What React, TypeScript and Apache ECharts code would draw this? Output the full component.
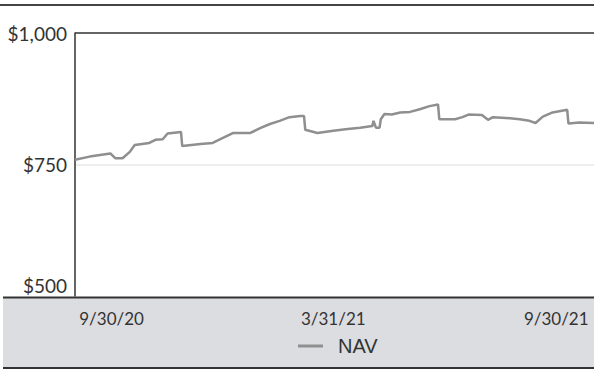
import React, { useEffect, useRef } from "react";
import * as echarts from "echarts";

const dates = ['2020-08-31','2020-09-12','2020-09-29','2020-10-03','2020-10-09','2020-10-15','2020-10-19','2020-10-31','2020-11-05','2020-11-11','2020-11-15','2020-11-26','2020-11-27','2020-12-12','2020-12-22','2020-12-30','2021-01-08','2021-01-22','2021-01-30','2021-02-07','2021-02-15','2021-02-23','2021-03-04','2021-03-07','2021-03-08','2021-03-18','2021-03-31','2021-04-10','2021-04-22','2021-05-02','2021-05-03','2021-05-05','2021-05-08','2021-05-09','2021-05-12','2021-05-18','2021-05-25','2021-06-02','2021-06-10','2021-06-18','2021-06-25','2021-06-26','2021-07-09','2021-07-15','2021-07-20','2021-07-31','2021-08-05','2021-08-09','2021-08-23','2021-08-31','2021-09-08','2021-09-13','2021-09-19','2021-09-27','2021-10-09','2021-10-10','2021-10-19','2021-10-31'];
const navValues = [759,765,771,762,762,774,787,791,797,798,809,812,785,789,791,800,810,810,819,827,833,840,842,842,816,810,814,817,820,823,833,820,820,836,846,845,849,850,855,861,864,836,836,840,845,844,835,840,838,836,833,829,841,849,854,828,830,829];
const xStart = '2020-08-31';
const xEnd = '2021-10-31';
const xTickDates = ['2020-09-30', '2021-03-31', '2021-09-30'];
const yTicks = [500, 750, 1000];

const ts = (s: string) => {
  const [y, m, d] = s.split('-').map(Number);
  return new Date(y, m - 1, d).getTime();
};

export default function App() {
  const ref = useRef<HTMLDivElement>(null);
  useEffect(() => {
    if (!ref.current) return;
    const chart = echarts.init(ref.current, undefined, { renderer: "svg" });
    const labelFont = "Lato, 'Open Sans', sans-serif";
    chart.setOption({
      animation: false,
      graphic: {
        elements: [
          { type: "line", z: -10, shape: { x1: 0, y1: 5, x2: 594, y2: 5 }, style: { stroke: "#444", lineWidth: 2 } },
          { type: "rect", z: -10, shape: { x: 3, y: 297, width: 591, height: 71 }, style: { fill: "#dcdde0" } },
          { type: "line", z: -9, shape: { x1: 3, y1: 297.5, x2: 594, y2: 297.5 }, style: { stroke: "#333", lineWidth: 2 } },
          { type: "line", z: -9, shape: { x1: 3, y1: 368, x2: 594, y2: 368 }, style: { stroke: "#333", lineWidth: 2 } },
        ],
      },
      grid: { left: 75, right: 0, top: 33, bottom: 74, containLabel: false },
      legend: {
        show: true,
        data: ["NAV"],
        left: 298,
        top: 336,
        padding: 0,
        icon: "rect",
        itemWidth: 25,
        itemHeight: 3,
        textStyle: { fontFamily: "'Liberation Sans', Arial, sans-serif", fontSize: 20, color: "#333", padding: [0, 0, 0, 10] },
      },
      xAxis: {
        type: "value",
        min: ts(xStart),
        max: ts(xEnd),
        axisLine: { show: false },
        axisTick: { show: false },
        splitLine: { show: false },
        axisLabel: {
          customValues: xTickDates.map(ts),
          margin: 14,
          fontFamily: labelFont,
          fontSize: 17,
          color: "#333",
          formatter: (v: number) => {
            const d = new Date(v);
            return `${d.getMonth() + 1}/${d.getDate()}/${String(d.getFullYear()).slice(2)}`;
          },
        },
      },
      yAxis: {
        type: "value",
        min: yTicks[0],
        max: yTicks[yTicks.length - 1],
        interval: 250,
        axisLine: { show: true, lineStyle: { color: "#333", width: 1.5 } },
        axisTick: { show: false },
        splitLine: { show: true, lineStyle: { color: ["rgba(0,0,0,0)", "#e8e8e8", "#333"], width: 1.5 } },
        axisLabel: {
          margin: 8,
          fontFamily: labelFont,
          fontSize: 19,
          color: "#333",
          formatter: (v: number) => {
            const s = "$" + v.toLocaleString("en-US");
            return v === yTicks[0] ? `{b|${s}}` : s;
          },
          rich: { b: { fontFamily: labelFont, fontSize: 19, color: "#333", padding: [0, 0, 22, 0] } },
        },
      },
      series: [
        {
          name: "NAV",
          type: "line",
          symbol: "none",
          data: dates.map((d, i) => [ts(d), navValues[i]]),
          lineStyle: { color: "#8f8f8f", width: 2.5 },
          itemStyle: { color: "#8f8f8f" },
        },
      ],
    });
    return () => chart.dispose();
  }, []);
  return <div ref={ref} style={{ width: 594, height: 370, position: "absolute", left: 0, top: 0 }} />;
}
